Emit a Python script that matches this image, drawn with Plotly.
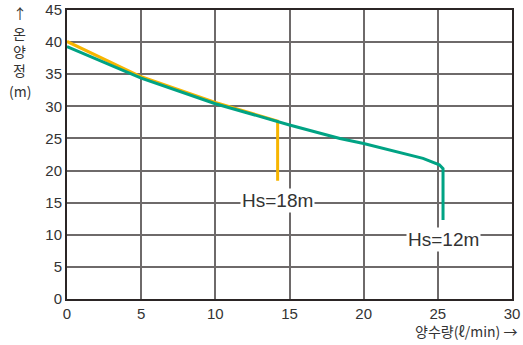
import plotly.graph_objects as go

# Data
hs18_flow = [0, 5, 10, 14.2, 14.2]
hs18_head = [40.1, 34.6, 30.6, 27.7, 18.4]
hs12_flow = [0, 5, 10, 15, 18.4, 20, 24, 25.1, 25.35, 25.35]
hs12_head = [39.3, 34.4, 30.4, 27.1, 25.0, 24.2, 21.9, 20.9, 20.3, 12.3]
x_ticks = [0, 5, 10, 15, 20, 25, 30]
y_ticks = [0, 5, 10, 15, 20, 25, 30, 35, 40, 45]
label18 = "Hs=18m"
label12 = "Hs=12m"
y_title = ["↑", "온", "양", "정", "(m)"]
x_title = "양수량(ℓ/min) →"

FONT = "Liberation Sans, Noto Sans CJK KR, sans-serif"
KFONT = "Noto Sans CJK KR, Liberation Sans, sans-serif"

fig = go.Figure()
fig.add_trace(go.Scatter(x=hs18_flow, y=hs18_head, mode="lines",
                         line=dict(color="#F7B500", width=3), showlegend=False))
fig.add_trace(go.Scatter(x=hs12_flow, y=hs12_head, mode="lines",
                         line=dict(color="#00A384", width=3), showlegend=False))

fig.update_xaxes(range=[0, 30], tickvals=x_ticks, showgrid=True, gridcolor="#6e6a6a",
                 gridwidth=1.5, showline=True, linecolor="#2b2525", linewidth=2,
                 mirror=True, zeroline=False, ticks="", automargin=False,
                 tickfont=dict(family=FONT, size=15, color="#333"))
fig.update_yaxes(range=[0, 45], tickvals=y_ticks, showgrid=True, gridcolor="#6e6a6a",
                 gridwidth=1.5, showline=True, linecolor="#2b2525", linewidth=2,
                 mirror=True, zeroline=False, ticks="", automargin=False,
                 tickfont=dict(family=FONT, size=15, color="#333"))

fig.add_annotation(x=14.2, y=15.4, xref="x", yref="y", text=label18, showarrow=False,
                   font=dict(family=FONT, size=19, color="#333"), bgcolor="white",
                   borderpad=1)
fig.add_annotation(x=25.35, y=9.3, xref="x", yref="y", text=label12, showarrow=False,
                   font=dict(family=FONT, size=19, color="#333"), bgcolor="white",
                   borderpad=1)

ys = [0.990, 0.922, 0.858, 0.793, 0.718]
for t, yy in zip(y_title, ys):
    fig.add_annotation(x=-0.106, y=yy, xref="paper", yref="paper", text=t, showarrow=False,
                       font=dict(family=KFONT, size=14, color="#333"), xanchor="center",
                       yanchor="middle")

fig.add_annotation(x=1.016, y=-0.11, xref="paper", yref="paper", text=x_title,
                   showarrow=False, xanchor="right", yanchor="middle",
                   font=dict(family=KFONT, size=14, color="#333"))

fig.update_layout(width=523, height=345, margin=dict(l=67, r=11, t=10, b=46),
                  plot_bgcolor="white", paper_bgcolor="white")
fig.write_html("out.html", config={"displayModeBar": False},
               post_script="document.body.style.margin='0';document.body.style.overflow='hidden';")
